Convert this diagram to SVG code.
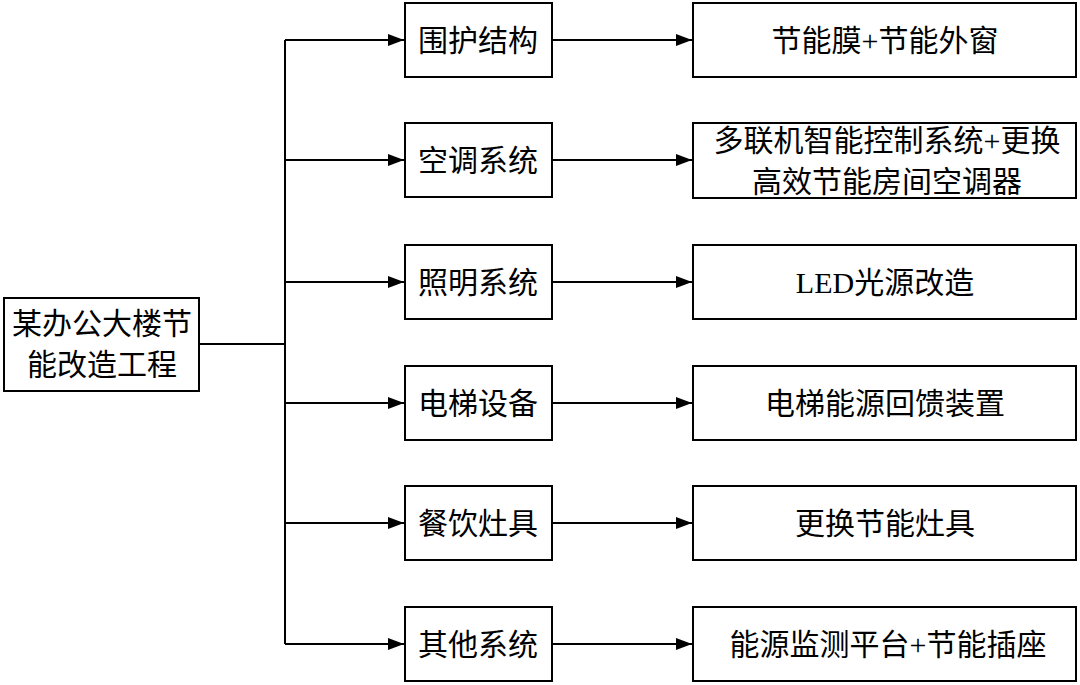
<svg xmlns="http://www.w3.org/2000/svg" width="1080" height="685" viewBox="0 0 1080 685">
<style>
.box{fill:#fff;stroke:#000;stroke-width:2}
.ln{fill:none;stroke:#000;stroke-width:2}
text{font-family:"Liberation Serif","Noto Sans CJK SC",serif;font-size:30px;fill:#000;text-anchor:middle;dominant-baseline:central}
</style>
<defs>
<marker id="ah" markerWidth="16" markerHeight="12" refX="16" refY="6" orient="auto" markerUnits="userSpaceOnUse">
<path d="M0,0 L16,6 L0,12 Z" fill="#000"/>
</marker>
</defs>
<rect width="1080" height="685" fill="#fff"/>
<g id="connectors">
<path class="ln" d="M199,344 H285"/>
<path class="ln" d="M285,40 V644"/>
<path class="ln" d="M285,40 H404" marker-end="url(#ah)"/>
<path class="ln" d="M285,160 H404" marker-end="url(#ah)"/>
<path class="ln" d="M285,282 H404" marker-end="url(#ah)"/>
<path class="ln" d="M285,403 H404" marker-end="url(#ah)"/>
<path class="ln" d="M285,523 H404" marker-end="url(#ah)"/>
<path class="ln" d="M285,644 H404" marker-end="url(#ah)"/>
<path class="ln" d="M552,40 H692" marker-end="url(#ah)"/>
<path class="ln" d="M552,160 H692" marker-end="url(#ah)"/>
<path class="ln" d="M552,282 H692" marker-end="url(#ah)"/>
<path class="ln" d="M552,403 H692" marker-end="url(#ah)"/>
<path class="ln" d="M552,523 H692" marker-end="url(#ah)"/>
<path class="ln" d="M552,644 H692" marker-end="url(#ah)"/>
</g>
<g id="root"><rect class="box" x="4" y="298" width="195" height="93"/><text x="102" y="323">某办公大楼节</text><text x="102" y="364">能改造工程</text></g>
<g id="m1"><rect class="box" x="405" y="3" width="147" height="74"/><text x="478" y="40">围护结构</text></g>
<g id="m2"><rect class="box" x="405" y="123" width="147" height="74"/><text x="478" y="160">空调系统</text></g>
<g id="m3"><rect class="box" x="405" y="245" width="147" height="74"/><text x="478" y="282">照明系统</text></g>
<g id="m4"><rect class="box" x="405" y="366" width="147" height="74"/><text x="478" y="403">电梯设备</text></g>
<g id="m5"><rect class="box" x="405" y="486" width="147" height="74"/><text x="478" y="523">餐饮灶具</text></g>
<g id="m6"><rect class="box" x="405" y="607" width="147" height="74"/><text x="478" y="644">其他系统</text></g>
<g id="r1"><rect class="box" x="693" y="3" width="383" height="74"/><text x="885" y="40">节能膜+节能外窗</text></g>
<g id="r2"><rect class="box" x="693" y="123" width="383" height="75"/><text x="887" y="140">多联机智能控制系统+更换</text><text x="887" y="181">高效节能房间空调器</text></g>
<g id="r3"><rect class="box" x="693" y="245" width="383" height="74"/><text x="885" y="282">LED光源改造</text></g>
<g id="r4"><rect class="box" x="693" y="366" width="383" height="74"/><text x="885" y="403">电梯能源回馈装置</text></g>
<g id="r5"><rect class="box" x="693" y="486" width="383" height="74"/><text x="885" y="523">更换节能灶具</text></g>
<g id="r6"><rect class="box" x="693" y="607" width="383" height="74"/><text x="888" y="644">能源监测平台+节能插座</text></g>
</svg>
